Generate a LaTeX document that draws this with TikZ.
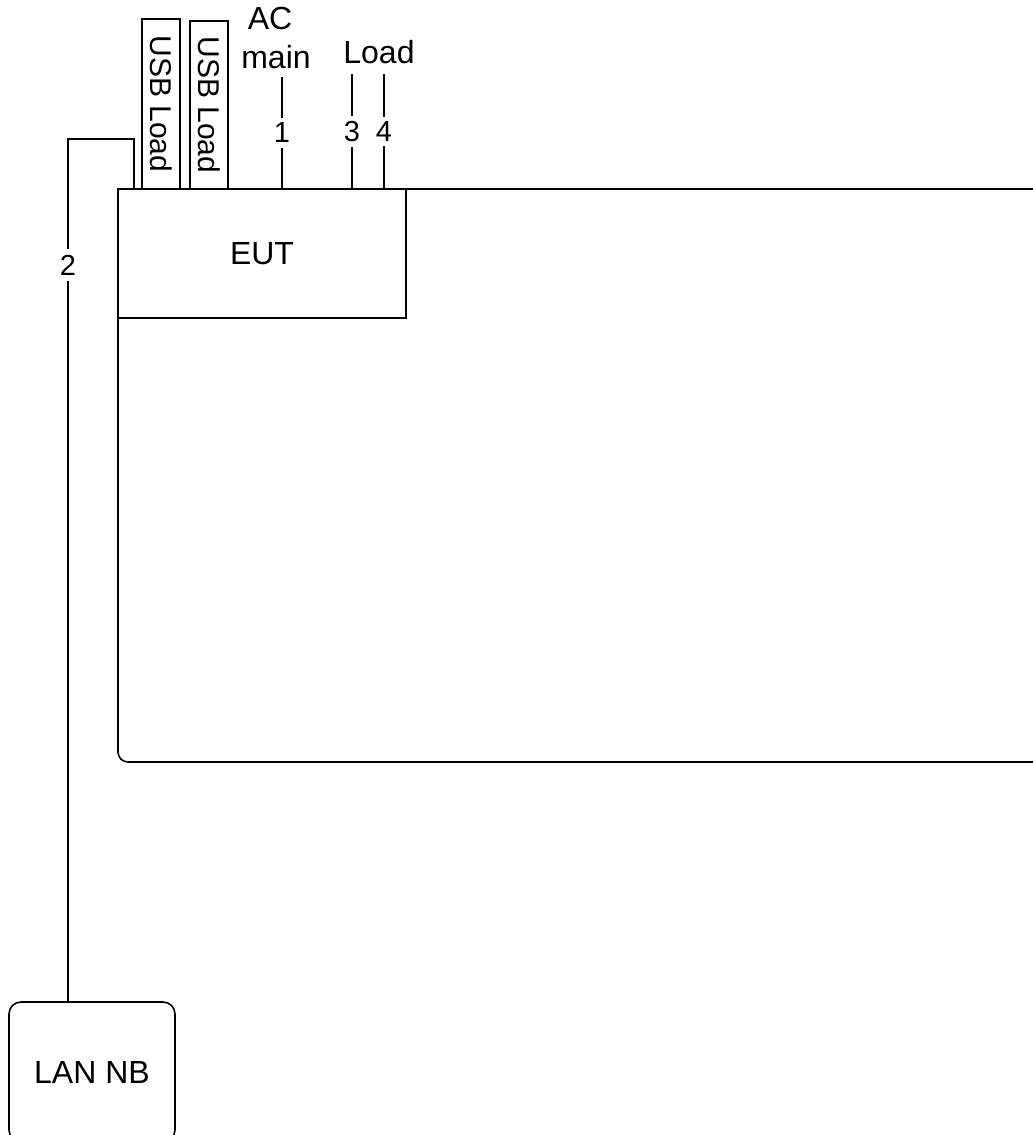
\documentclass[tikz,border=0pt]{standalone}
\usepackage{fontspec}
\setmainfont{Liberation Sans}
\begin{document}
\begin{tikzpicture}[x=1pt,y=-1pt, line width=1.6pt,
  box/.style={draw, outer sep=0pt, inner sep=0pt},
  txt/.style={font=\fontsize{32}{38}\selectfont, inner sep=0pt},
  vtxt/.style={font=\fontsize{30}{36}\selectfont, inner sep=0pt},
  lbl/.style={fill=white, inner xsep=2pt, inner ysep=5pt, font=\fontsize{29}{34}\selectfont}]
\useasboundingbox (0,0) rectangle (1033,1135);
\clip (0,0) rectangle (1033,1135);
% room
\node[box, rounded corners=10pt, minimum width=950pt, minimum height=573pt, anchor=north west] (room) at (118,189) {};
% EUT
\node[box, txt, fill=white, minimum width=288pt, minimum height=129pt, anchor=north west] (eut) at (118,189) {EUT};
% USB loads
\node[box, vtxt, rotate=-90, minimum width=170pt, minimum height=38pt] (usb1) at (161,104) {USB Load};
\node[box, vtxt, rotate=-90, minimum width=168pt, minimum height=38pt] (usb2) at (209,105) {USB Load};
% texts
\node[txt, anchor=base] (ac) at (270,29) {AC};
\node[txt, anchor=base] (main) at (276,68) {main};
\node[txt, anchor=base] (load) at (379,63) {Load};
% cables
\coordinate (acT) at (282,77);
\coordinate (l3T) at (352,74);
\coordinate (l4T) at (384,74);
\draw (acT) -- (acT |- eut.north) node[lbl, midway] (n1) {1};
\draw (l3T) -- (l3T |- eut.north) node[lbl, midway] (n3) {3};
\draw (l4T) -- (l4T |- eut.north) node[lbl, midway] (n4) {4};
% LAN NB
\node[box, txt, rounded corners=12pt, minimum width=166pt, minimum height=140pt, anchor=north west] (lan) at (9,1002) {LAN NB};
\coordinate (lanT) at (68,1002);
\coordinate (c1) at (68,139);
\coordinate (c2) at (134,139);
\draw (lanT) -- (c1) -- (c2) -- (c2 |- eut.north);
\node[lbl, inner ysep=6pt] (n2) at (68,265) {2};
\end{tikzpicture}
\end{document}
